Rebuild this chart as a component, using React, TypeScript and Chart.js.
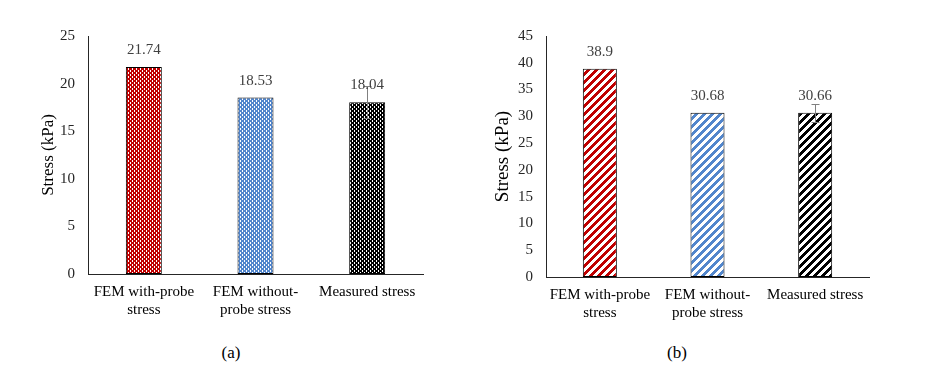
import React, { useEffect, useRef } from "react";
import { Chart, registerables } from "chart.js";
Chart.register(...registerables);

const categories: string[][] = [
  ["FEM with-probe", "stress"],
  ["FEM without-", "probe stress"],
  ["Measured stress"],
];
const valuesA = [21.74, 18.53, 18.04];
const errorsA = [0, 0, 1.7];
const valueLabelsA = ["21.74", "18.53", "18.04"];
const valuesB = [38.9, 30.68, 30.66];
const errorsB = [0, 0, 1.7];
const valueLabelsB = ["38.9", "30.68", "30.66"];
const barColors = ["#C00000", "#5286CC", "#000000"];

const FONT = '"Liberation Serif", "Times New Roman", serif';

function dotPattern(color: string): CanvasPattern | string {
  const n = 8;
  const c = document.createElement("canvas");
  c.width = n;
  c.height = n;
  const g = c.getContext("2d");
  if (!g) return color;
  g.fillStyle = color;
  g.fillRect(0, 0, n, n);
  g.fillStyle = "#ffffff";
  for (let y = 0; y < n; y++) {
    for (let x = 0; x < n; x++) {
      const px = x % 4;
      const py = y % 4;
      const white = (px === 0 && py < 2) || (px === 2 && py >= 2);
      if (white) g.fillRect(x, y, 1, 1);
    }
  }
  const p = g.createPattern(c, "repeat");
  return p || color;
}

function stripePattern(color: string): CanvasPattern | string {
  const n = 8;
  const c = document.createElement("canvas");
  c.width = n;
  c.height = n;
  const g = c.getContext("2d");
  if (!g) return color;
  g.fillStyle = "#ffffff";
  g.fillRect(0, 0, n, n);
  g.fillStyle = color;
  for (let y = 0; y < n; y++) {
    for (let k = 0; k < 4; k++) {
      const x = (n - 1 - y + k) % n;
      g.fillRect(x, y, 1, 1);
    }
  }
  const p = g.createPattern(c, "repeat");
  return p || color;
}

const overlayPlugin = {
  id: "overlay",
  afterDatasetsDraw(chart: any, _args: any, opts: any) {
    const ctx = chart.ctx;
    const meta = chart.getDatasetMeta(0);
    const yScale = chart.scales.y;
    const vals = chart.data.datasets[0].data as number[];
    ctx.save();
    ctx.strokeStyle = "#808080";
    ctx.lineWidth = 1;
    meta.data.forEach((bar: any, i: number) => {
      const e = opts.errors[i];
      if (!e) return;
      const x = Math.round(bar.x) + 0.5;
      const yt = Math.round(yScale.getPixelForValue(vals[i] + e)) + 0.5;
      const yb = Math.round(yScale.getPixelForValue(vals[i] - e)) + 0.5;
      ctx.beginPath();
      ctx.moveTo(x, yt);
      ctx.lineTo(x, yb);
      ctx.moveTo(x - 4, yt);
      ctx.lineTo(x + 4, yt);
      ctx.moveTo(x - 4, yb);
      ctx.lineTo(x + 4, yb);
      ctx.stroke();
    });
    ctx.fillStyle = "#404040";
    ctx.font = `15px ${FONT}`;
    ctx.textAlign = "center";
    ctx.textBaseline = "middle";
    meta.data.forEach((bar: any, i: number) => {
      ctx.fillText(opts.labels[i], bar.x, bar.y - 17);
    });
    ctx.restore();
  },
};

type Cfg = {
  values: number[];
  errors: number[];
  labels: string[];
  max: number;
  fills: (CanvasPattern | string)[];
  barPct: number;
  titleSize: number;
  padLeft: number;
  yWidth: number;
  padRight: number;
  xHeight: number;
};

function makeChart(canvas: HTMLCanvasElement, cfg: Cfg) {
  return new Chart(canvas, {
    type: "bar",
    data: {
      labels: categories as any,
      datasets: [
        {
          data: cfg.values,
          backgroundColor: cfg.fills as any,
          borderColor: "#000000",
          borderWidth: 1,
          borderSkipped: false,
          categoryPercentage: 1,
          barPercentage: cfg.barPct,
        },
      ],
    },
    options: {
      animation: false,
      responsive: false,
      events: [],
      layout: { padding: { left: cfg.padLeft, right: cfg.padRight, top: 36, bottom: 0 } },
      plugins: {
        legend: { display: false },
        tooltip: { enabled: false },
        overlay: { errors: cfg.errors, labels: cfg.labels },
      } as any,
      scales: {
        x: {
          grid: { display: false, drawTicks: false },
          border: { display: true, color: "#262626", width: 1 },
          ticks: {
            color: "#000000",
            font: { family: FONT, size: 15 },
            padding: 9,
            maxRotation: 0,
            minRotation: 0,
            autoSkip: false,
          },
          afterFit: (s: any) => {
            s.height = cfg.xHeight;
          },
        },
        y: {
          min: 0,
          max: cfg.max,
          grid: { display: false, drawTicks: false },
          border: { display: true, color: "#262626", width: 1 },
          ticks: {
            stepSize: 5,
            color: "#262626",
            font: { family: FONT, size: 15 },
            padding: 13,
          },
          title: {
            display: true,
            text: "Stress (kPa)",
            color: "#000000",
            font: { family: FONT, size: cfg.titleSize },
            padding: { top: 4, bottom: 4 },
          },
          afterFit: (s: any) => {
            s.width = cfg.yWidth;
          },
        },
      },
    },
    plugins: [overlayPlugin],
  });
}

export default function App() {
  const refA = useRef<HTMLCanvasElement>(null);
  const refB = useRef<HTMLCanvasElement>(null);

  useEffect(() => {
    if (!refA.current || !refB.current) return;
    const a = makeChart(refA.current, {
      values: valuesA,
      errors: errorsA,
      labels: valueLabelsA,
      max: 25,
      fills: barColors.map((c) => dotPattern(c)),
      barPct: 0.322,
      titleSize: 17,
      padLeft: 34,
      yWidth: 54,
      padRight: 42,
      xHeight: 56,
    });
    const b = makeChart(refB.current, {
      values: valuesB,
      errors: errorsB,
      labels: valueLabelsB,
      max: 45,
      fills: barColors.map((c) => stripePattern(c)),
      barPct: 0.316,
      titleSize: 19,
      padLeft: 23,
      yWidth: 58,
      padRight: 66,
      xHeight: 53,
    });
    return () => {
      a.destroy();
      b.destroy();
    };
  }, []);

  const caption: React.CSSProperties = {
    position: "absolute",
    top: 342,
    width: 60,
    textAlign: "center",
    fontFamily: FONT,
    fontSize: 17,
    lineHeight: "22px",
    color: "#000",
  };

  return (
    <div
      style={{
        position: "fixed",
        left: 0,
        top: 0,
        width: 935,
        height: 367,
        background: "#ffffff",
        overflow: "hidden",
      }}
    >
      <canvas
        ref={refA}
        width={465}
        height={330}
        style={{ position: "absolute", left: 0, top: 0, width: 465, height: 330 }}
      />
      <canvas
        ref={refB}
        width={470}
        height={330}
        style={{ position: "absolute", left: 465, top: 0, width: 470, height: 330 }}
      />
      <div style={{ ...caption, left: 231 - 30 }}>(a)</div>
      <div style={{ ...caption, left: 677 - 30 }}>(b)</div>
    </div>
  );
}
